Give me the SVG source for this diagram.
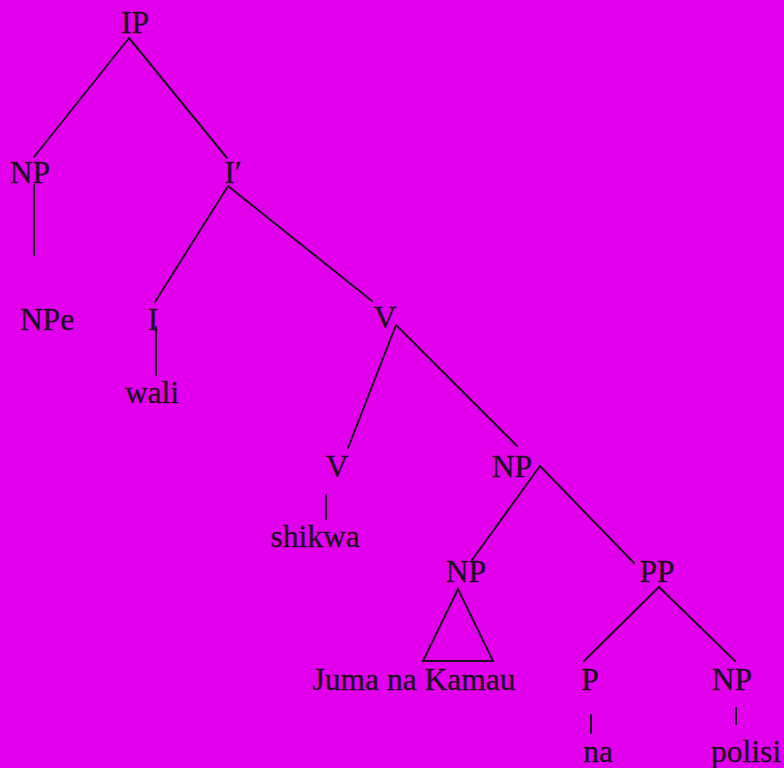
<svg xmlns="http://www.w3.org/2000/svg" width="784" height="768" viewBox="0 0 784 768">
<style>
text{font-family:"Liberation Serif","Times New Roman",serif;font-size:31.5px;fill:#1e0c22;text-anchor:middle;stroke:#1e0c22;stroke-width:0.3}
.e{stroke:#1e0c22;stroke-width:2;fill:none;stroke-linecap:round}
</style>
<rect width="784" height="768" fill="#e200ec"/>
<g id="connectors" class="e">
<line x1="129" y1="38" x2="34" y2="157"/>
<line x1="129" y1="38" x2="227" y2="158"/>
<line x1="34" y1="185" x2="34" y2="255"/>
<line x1="228" y1="186" x2="155" y2="302"/>
<line x1="228" y1="186" x2="372" y2="301"/>
<line x1="156" y1="327" x2="156" y2="375"/>
<line x1="396" y1="325" x2="348" y2="448"/>
<line x1="396" y1="325" x2="517" y2="446"/>
<line x1="326" y1="495" x2="326" y2="519"/>
<line x1="540" y1="466" x2="472" y2="560"/>
<line x1="540" y1="466" x2="634" y2="563"/>
<polygon points="458,589 423,661 493,661"/>
<line x1="659" y1="587" x2="584" y2="661"/>
<line x1="659" y1="587" x2="735" y2="661"/>
<line x1="591" y1="715" x2="591" y2="733"/>
<line x1="736" y1="708" x2="736" y2="724"/>
</g>
<g id="IP"><text x="135" y="33">IP</text></g>
<g id="NP1"><text x="30" y="183">NP</text></g>
<g id="Ibar"><text x="233" y="183">I′</text></g>
<g id="NPe"><text x="47" y="330">NPe</text></g>
<g id="I"><text x="153" y="330">I</text></g>
<g id="wali"><text x="152" y="403">wali</text></g>
<g id="V1"><text x="385" y="328">V</text></g>
<g id="V2"><text x="337" y="477">V</text></g>
<g id="shikwa"><text x="315" y="547">shikwa</text></g>
<g id="NP2"><text x="512" y="477">NP</text></g>
<g id="NP3"><text x="466" y="582">NP</text></g>
<g id="PP"><text x="657" y="582">PP</text></g>
<g id="Juma"><text x="414" y="690">Juma na Kamau</text></g>
<g id="P"><text x="590" y="690">P</text></g>
<g id="NP4"><text x="732" y="690">NP</text></g>
<g id="na"><text x="598" y="762">na</text></g>
<g id="polisi"><text x="746" y="762">polisi</text></g>
</svg>
